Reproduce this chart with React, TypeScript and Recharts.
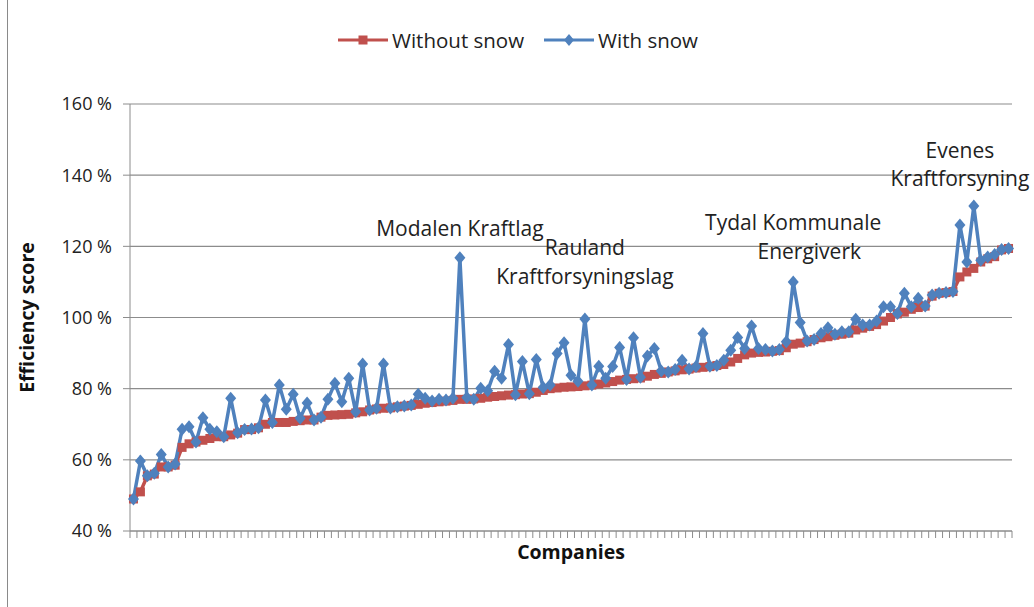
import { LineChart, Line, XAxis, YAxis, CartesianGrid, ReferenceDot, Label } from 'recharts';

// efficiency scores (%) per company, sorted by the score without snow
const withoutSnow = [
  49, 51, 55.5, 56, 58, 58, 58.5, 63.5, 64.5, 65,
  65.5, 66, 66.5, 66.5, 67, 67.5, 68.5, 68.5, 69, 70,
  70.5, 70.5, 70.5, 70.8, 71, 71.2, 71.2, 72, 72.5, 72.6,
  72.7, 72.8, 73.2, 73.5, 74, 74.3, 74.5, 74.6, 74.9, 75.1,
  75.3, 75.6, 75.9, 76.1, 76.3, 76.5, 76.7, 77, 77, 77.1,
  77.3, 77.6, 77.8, 78, 78.2, 78.3, 78.5, 78.6, 79, 79.5,
  80, 80.2, 80.4, 80.5, 80.6, 80.8, 81, 81.3, 81.6, 82,
  82.4, 82.6, 82.8, 83, 83.5, 84, 84.3, 84.7, 85, 85.3,
  85.5, 85.8, 86, 86.2, 86.5, 86.8, 87.5, 88.5, 89.5, 90,
  90.2, 90.3, 90.5, 90.7, 91.5, 92.5, 92.8, 93.2, 93.8, 94.3,
  94.6, 95, 95.3, 95.6, 96.5, 97, 97.5, 98, 99, 100,
  101, 101.5, 102.3, 102.8, 103.2, 106, 106.8, 107, 107.3, 111.4,
  112.8, 113.8, 115.6, 116.5, 117.1, 119, 119.4,
];

const withSnow = [
  49, 59.7, 55.5, 56.2, 61.5, 58, 58.8, 68.6, 69.3, 65,
  71.8, 68.6, 67.9, 66.5, 77.3, 67.6, 68.5, 68.7, 69, 76.8,
  70.5, 81, 74.2, 78.4, 71.7, 76, 71.2, 72, 77, 81.5,
  76.3, 82.9, 73.5, 86.9, 74, 74.5, 86.9, 74.6, 74.9, 75.1,
  75.4, 78.4, 77.3, 76.5, 77, 76.8, 77.3, 116.8, 77.5, 77,
  80.1, 79.4, 84.9, 82.9, 92.4, 78.3, 87.6, 78.6, 88.2, 80.3,
  81, 89.9, 92.9, 83.8, 82.1, 99.6, 81, 86.3, 82.9, 86.2,
  91.6, 82.6, 94.3, 83.2, 89.2, 91.3, 85, 84.7, 85.4, 88,
  85.5, 86.2, 95.5, 86.3, 86.5, 88, 90.8, 94.4, 91.3, 97.6,
  91.3, 91, 90.6, 91, 93.2, 110, 98.6, 93.4, 93.8, 95.5,
  97.1, 95.3, 96, 96, 99.5, 97.9, 97.9, 99, 103, 103,
  101.1, 106.8, 103, 105.4, 103.2, 106.3, 106.8, 107, 107.3, 126,
  115.6, 131.3, 116.1, 117, 117.7, 119.1, 119.4,
];

const yTicks = [40, 60, 80, 100, 120, 140, 160];

const annotations = [
  { company: 47, lines: ['Modalen Kraftlag'], dy: [-30], dx: [0] },
  { company: 65, lines: ['Rauland', 'Kraftforsyningslag'], dy: [-72, -43], dx: [0, 0] },
  { company: 95, lines: ['Tydal Kommunale', 'Energiverk'], dy: [-60, -31], dx: [0, 16] },
  { company: 119, lines: ['Evenes', 'Kraftforsyning'], dy: [-75, -47], dx: [0, 0] },
];

const data = withoutSnow.map((v, i) => ({ company: i, withoutSnow: v, withSnow: withSnow[i] }));
const xTicks = Array.from({ length: withoutSnow.length + 1 }, (_, k) => k - 0.5);

const RED = '#C0504D';
const BLUE = '#4F81BD';
const FONT = '"Open Sans", sans-serif';

const SquareDot = (props: any) => {
  const { cx, cy, index } = props;
  return <rect key={'s' + index} x={cx - 4.5} y={cy - 4.5} width={9} height={9} fill={RED} />;
};

const DiamondDot = (props: any) => {
  const { cx, cy, index } = props;
  return (
    <polygon
      key={'d' + index}
      points={`${cx},${cy - 6.5} ${cx + 5.5} ${cy} ${cx},${cy + 6.5} ${cx - 5.5} ${cy}`}
      fill={BLUE}
    />
  );
};

const AnnotationLabel = ({ viewBox, lines, offsetsY, offsetsX }: any) => {
  const { x, y } = viewBox;
  return (
    <g>
      {lines.map((t: string, i: number) => (
        <text
          key={t}
          x={x + offsetsX[i]}
          y={y + offsetsY[i]}
          textAnchor="middle"
          dominantBaseline="central"
          fontSize={21}
          fontFamily={FONT}
          fill="#222"
        >
          {t}
        </text>
      ))}
    </g>
  );
};

function LegendItem({ color, label, square }: { color: string; label: string; square: boolean }) {
  return (
    <div style={{ display: 'flex', alignItems: 'center', gap: 4 }}>
      <svg width={50} height={14}>
        <line x1={0} y1={7} x2={50} y2={7} stroke={color} strokeWidth={3} />
        {square ? (
          <rect x={20.5} y={2.5} width={9} height={9} fill={color} />
        ) : (
          <polygon points="25,1 30,7 25,13 20,7" fill={color} />
        )}
      </svg>
      <span>{label}</span>
    </div>
  );
}

export default function App() {
  return (
    <div
      style={{
        position: 'absolute',
        left: 0,
        top: 0,
        width: 1034,
        height: 607,
        background: '#fff',
        fontFamily: FONT,
      }}
    >
      <div style={{ position: 'absolute', left: 7, top: 0, width: 1, height: 607, background: '#8a8a8a' }} />
      <div
        style={{
          position: 'absolute',
          left: 338,
          top: 26,
          display: 'flex',
          gap: 20,
          fontSize: 20.5,
          color: '#222',
        }}
      >
        <LegendItem color={RED} label="Without snow" square />
        <LegendItem color={BLUE} label="With snow" square={false} />
      </div>
      <LineChart
        width={1034}
        height={607}
        data={data}
        margin={{ top: 104, right: 22, bottom: 0, left: 0 }}
      >
        <CartesianGrid horizontal vertical={false} stroke="#8c8c8c" strokeWidth={1.2} />
        <XAxis
          dataKey="company"
          type="number"
          domain={[-0.5, withoutSnow.length - 0.5]}
          ticks={xTicks}
          interval={0}
          tickFormatter={() => ''}
          tickSize={7}
          height={76}
          stroke="#8c8c8c"
          allowDecimals
        >
          <Label
            value="Companies"
            position="insideTop"
            offset={14}
            style={{ fontSize: 19.5, fontWeight: 'bold', fill: '#111', fontFamily: FONT }}
          />
        </XAxis>
        <YAxis
          domain={[40, 160]}
          ticks={yTicks}
          interval={0}
          width={130}
          tickSize={7}
          tickMargin={11}
          stroke="#8c8c8c"
          tickFormatter={(v: number) => `${v} %`}
          tick={{ fontSize: 18, fill: '#222', fontFamily: FONT }}
        >
          <Label
            value="Efficiency score"
            angle={-90}
            position="insideLeft"
            offset={27}
            style={{ fontSize: 19.5, fontWeight: 'bold', fill: '#111', textAnchor: 'middle', fontFamily: FONT }}
          />
        </YAxis>
        <Line
          dataKey="withoutSnow"
          name="Without snow"
          stroke={RED}
          strokeWidth={3.5}
          dot={SquareDot}
          activeDot={false}
          isAnimationActive={false}
        />
        <Line
          dataKey="withSnow"
          name="With snow"
          stroke={BLUE}
          strokeWidth={3.5}
          dot={DiamondDot}
          activeDot={false}
          isAnimationActive={false}
        />
        {annotations.map((a) => (
          <ReferenceDot
            key={a.company}
            x={a.company}
            y={withSnow[a.company]}
            r={0}
            fill="none"
            stroke="none"
            label={(p: any) => (
              <AnnotationLabel viewBox={p.viewBox} lines={a.lines} offsetsY={a.dy} offsetsX={a.dx} />
            )}
          />
        ))}
      </LineChart>
    </div>
  );
}
